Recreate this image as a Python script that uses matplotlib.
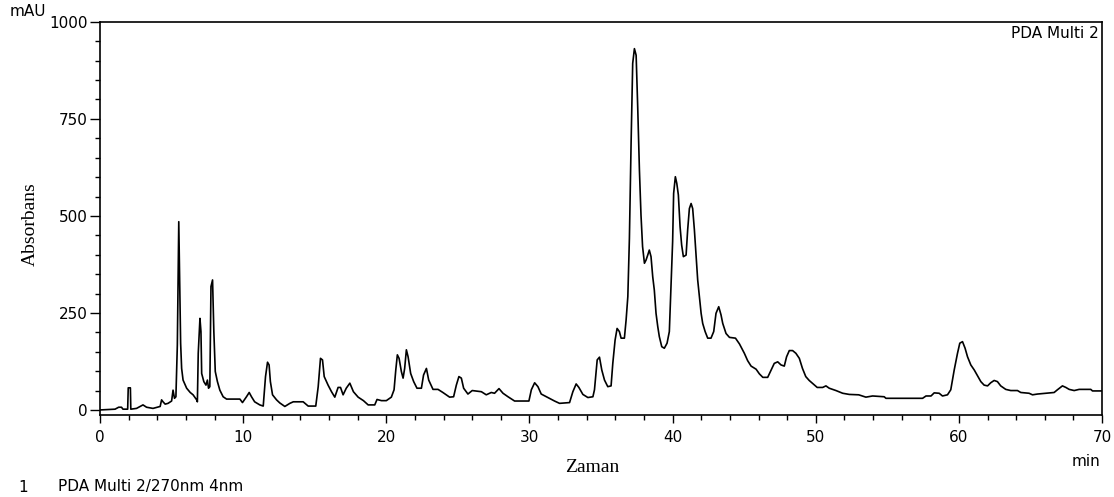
import matplotlib
matplotlib.use('Agg')
import matplotlib.pyplot as plt
from matplotlib.ticker import MultipleLocator

# retention time (min) and absorbance (mAU)
zaman = [
    0.0, 1.05, 1.3, 1.5, 1.6, 1.93, 1.97, 2.12, 2.15, 2.55, 2.8, 3.0, 3.25, 3.7, 4.2, 4.3, 4.4, 4.55, 4.75,
    5.0, 5.1, 5.2, 5.3, 5.4, 5.5, 5.55, 5.63, 5.7, 5.8, 6.05, 6.3, 6.5, 6.75, 6.8, 6.86, 6.98, 7.05, 7.1,
    7.25, 7.4, 7.5, 7.58, 7.67, 7.75, 7.86, 7.95, 8.05, 8.2, 8.37, 8.6, 8.84, 9.77, 9.95, 10.23, 10.42,
    10.58, 10.8, 11.16, 11.4, 11.56, 11.7, 11.81, 11.9, 12.05, 12.33, 12.56, 12.91, 13.26, 13.5, 14.19,
    14.54, 15.07, 15.24, 15.4, 15.54, 15.66, 15.93, 16.17, 16.4, 16.63, 16.8, 16.98, 17.2, 17.45, 17.7,
    18.03, 18.4, 18.73, 19.19, 19.35, 19.66, 20.0, 20.35, 20.54, 20.66, 20.77, 20.89, 21.05, 21.17, 21.28,
    21.4, 21.52, 21.7, 21.91, 22.14, 22.45, 22.6, 22.8, 22.96, 23.26, 23.61, 23.95, 24.42, 24.7, 24.89,
    25.07, 25.24, 25.4, 25.7, 26.0, 26.64, 26.98, 27.33, 27.56, 27.87, 28.15, 28.5, 28.96, 29.96, 30.13,
    30.36, 30.59, 30.82, 31.29, 31.75, 32.1, 32.8, 33.03, 33.26, 33.45, 33.73, 34.08, 34.43, 34.54, 34.73,
    34.89, 35.05, 35.24, 35.47, 35.7, 35.82, 35.98, 36.12, 36.28, 36.4, 36.63, 36.75, 36.87, 36.98, 37.1,
    37.21, 37.33, 37.45, 37.56, 37.68, 37.79, 37.9, 38.03, 38.14, 38.26, 38.37, 38.49, 38.61, 38.72, 38.84,
    38.96, 39.07, 39.24, 39.42, 39.61, 39.77, 39.89, 40.0, 40.07, 40.19, 40.29, 40.4, 40.52, 40.63, 40.75,
    40.94, 41.05, 41.17, 41.29, 41.4, 41.52, 41.64, 41.75, 41.87, 41.99, 42.1, 42.27, 42.45, 42.68, 42.87,
    43.03, 43.22, 43.38, 43.5, 43.73, 43.97, 44.39, 44.67, 45.01, 45.24, 45.48, 45.83, 46.06, 46.3, 46.64,
    46.88, 47.1, 47.34, 47.57, 47.8, 47.96, 48.15, 48.38, 48.61, 48.85, 49.07, 49.3, 49.54, 49.82, 50.1,
    50.48, 50.71, 50.94, 51.41, 51.88, 52.34, 53.0, 53.5, 53.97, 54.78, 54.9, 57.46, 57.7, 58.05, 58.27,
    58.62, 58.85, 59.2, 59.43, 59.67, 59.9, 60.06, 60.25, 60.43, 60.6, 60.83, 61.07, 61.3, 61.53, 61.76,
    62.0, 62.22, 62.46, 62.69, 62.92, 63.27, 63.62, 64.09, 64.32, 64.9, 65.14, 65.49, 66.65, 66.88, 67.23,
    67.47, 67.7, 68.05, 68.4, 69.21, 69.33, 69.95,
]
absorbans = [
    0, 2, 7, 7, 2, 2, 57, 57, 2, 4, 9, 13, 7, 4, 9, 26, 21, 15, 17,
    23, 51, 30, 34, 167, 485, 369, 172, 107, 77, 56, 45, 39, 26, 21, 146, 236, 202, 94,
    73, 64, 77, 56, 60, 318, 335, 202, 99, 73, 51, 34, 28, 28, 19, 34, 45,
    34, 21, 13, 10, 86, 123, 116, 73, 39, 26, 18, 9, 17, 21, 21,
    10, 10, 60, 133, 129, 86, 64, 47, 33, 58, 58, 39, 56, 69, 47,
    33, 24, 13, 13, 27, 24, 24, 33, 52, 103, 142, 133, 99, 82, 107,
    155, 137, 94, 73, 56, 56, 90, 107, 77, 53, 53, 45, 33, 34, 64,
    86, 82, 56, 41, 50, 47, 39, 45, 43, 55, 43, 34, 23, 23, 52,
    70, 60, 41, 32, 23, 17, 19, 47, 67, 58, 40, 32, 34, 52, 129,
    136, 103, 77, 60, 62, 120, 180, 210, 202, 185, 185, 232, 292, 442, 691,
    893, 931, 914, 781, 618, 502, 421, 378, 386, 399, 412, 395, 343, 309, 249,
    215, 189, 163, 159, 172, 202, 326, 434, 558, 601, 584, 554, 472, 425, 395,
    399, 464, 519, 532, 519, 464, 395, 335, 292, 249, 223, 202, 185, 185, 202,
    249, 266, 245, 223, 197, 187, 185, 170, 146, 127, 113, 105, 93, 84, 84,
    103, 120, 124, 116, 113, 137, 153, 153, 146, 133, 107, 86, 76, 67, 58,
    58, 62, 56, 50, 43, 40, 39, 33, 36, 34, 30, 30, 36, 36, 44,
    43, 36, 39, 52, 103, 146, 172, 176, 159, 137, 116, 103, 88, 73, 64,
    62, 70, 76, 73, 62, 53, 50, 50, 45, 43, 39, 41, 45, 52, 62,
    58, 53, 50, 53, 53, 49, 49,
]

x_ticks = [0, 10, 20, 30, 40, 50, 60, 70]
y_ticks = [0, 250, 500, 750, 1000]

plt.rcParams['font.family'] = 'DejaVu Sans'
plt.rcParams['font.size'] = 11

fig = plt.figure(figsize=(11.14, 4.97), dpi=100)
ax = fig.add_axes([0.0898, 0.165, 0.8995, 0.791])

ax.plot(zaman, absorbans, color='black', linewidth=1.2)

ax.set_xlim(0, 70)
ax.set_ylim(-13, 1000)
ax.set_xticks(x_ticks)
ax.set_yticks(y_ticks)
ax.xaxis.set_minor_locator(MultipleLocator(2))
ax.yaxis.set_minor_locator(MultipleLocator(50))

ax.tick_params(axis='x', which='major', direction='out', length=6, width=1, pad=5)
ax.tick_params(axis='x', which='minor', direction='out', length=3.5, width=1)
ax.tick_params(axis='y', which='major', direction='out', length=7, width=1, pad=2)
ax.tick_params(axis='y', which='minor', direction='out', length=3.5, width=1)
for side in ['top', 'right', 'left', 'bottom']:
    ax.spines[side].set_linewidth(1.2)

fig.text(10 / 1114, 1 - 12 / 497, 'mAU', ha='left', va='center', fontsize=11)
fig.text(1099 / 1114, 1 - 33 / 497, 'PDA Multi 2', ha='right', va='center', fontsize=11)
fig.text(1100 / 1114, 1 - 461 / 497, 'min', ha='right', va='center', fontsize=11)
fig.text(592 / 1114, 1 - 467 / 497, 'Zaman', ha='center', va='center',
         family='Liberation Serif', fontsize=14)
fig.text(30 / 1114, 1 - 224 / 497, 'Absorbans', ha='center', va='center', rotation=90,
         family='Liberation Serif', fontsize=14)
fig.text(18 / 1114, 1 - 487 / 497, '1', ha='left', va='center', fontsize=11)
fig.text(58 / 1114, 1 - 487 / 497, 'PDA Multi 2/270nm 4nm', ha='left', va='center', fontsize=11)

fig.savefig('out.png', dpi=100)
